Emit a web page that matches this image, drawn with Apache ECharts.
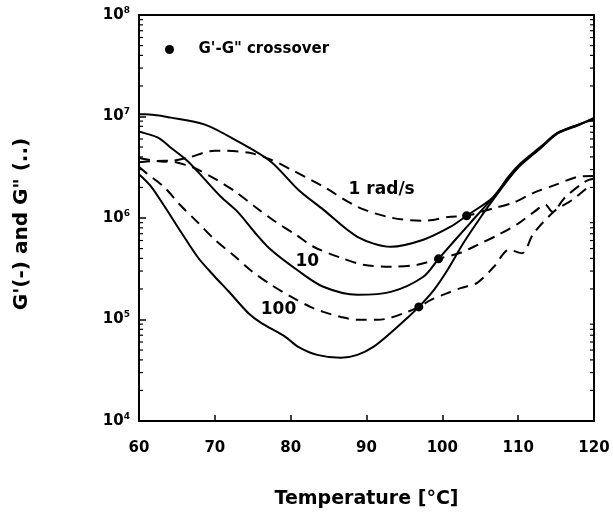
<!DOCTYPE html>
<html>
<head>
<meta charset="utf-8">
<script src="https://cdn.jsdelivr.net/npm/echarts@6/dist/echarts.min.js"></script>
<style>html,body{margin:0;padding:0;background:#fff}#c{width:613px;height:518px}</style>
</head>
<body>
<div id="c"></div>
<script>
// ---- data (temperature in °C, modulus in Pa) ----
const gp1T = [60, 60.8, 64.2, 68.7, 73.1, 77.4, 81.0, 84.3, 88.8, 93.2, 97.5, 101.1, 103.2, 106.8, 108.6, 110.3, 113.0, 115.2, 117.9, 120];
const gp1 = [1.05e7, 1.05e7, 9.75e6, 8.32e6, 5.65e6, 3.59e6, 1.90e6, 1.21e6, 6.53e5, 5.21e5, 6.11e5, 8.20e5, 1.05e6, 1.62e6, 2.49e6, 3.45e6, 5.05e6, 6.93e6, 8.32e6, 9.31e6];

const gpp1T = [60, 63.4, 66.5, 70.0, 74.4, 77.4, 80.1, 84.3, 88.8, 93.2, 97.5, 101.1, 103.2, 106.6, 109.3, 112.1, 115.0, 117.9, 120];
const gpp1 = [3.9e6, 3.59e6, 3.94e6, 4.61e6, 4.41e6, 3.76e6, 2.99e6, 2.04e6, 1.29e6, 1.01e6, 9.40e5, 1.03e6, 1.05e6, 1.24e6, 1.41e6, 1.78e6, 2.13e6, 2.55e6, 2.6e6];

const gp10T = [60, 62.5, 64.2, 66.5, 68.7, 70.8, 73.1, 75.3, 77.4, 81.0, 84.3, 88.8, 93.2, 97.5, 99.5, 103.7, 106.4, 108.6, 110.3, 113.0, 115.2, 117.9, 120];
const gp10 = [7.10e6, 6.19e6, 4.93e6, 3.59e6, 2.39e6, 1.62e6, 1.13e6, 7.16e5, 4.86e5, 3.02e5, 2.10e5, 1.75e5, 1.87e5, 2.64e5, 3.96e5, 8.97e5, 1.51e6, 2.40e6, 3.36e6, 4.95e6, 6.85e6, 8.25e6, 9.6e6];

const gpp10T = [60, 63.4, 66.5, 67.8, 70.2, 72.7, 75.3, 78.0, 80.7, 83.0, 86.6, 89.6, 93.2, 96.7, 99.5, 102.4, 104.8, 107.5, 110.0, 112.1, 113.6, 114.5, 116.2, 118.9, 120];
const gpp10 = [3.55e6, 3.67e6, 3.28e6, 2.99e6, 2.39e6, 1.82e6, 1.29e6, 9.18e5, 6.84e5, 5.21e5, 4.06e5, 3.46e5, 3.31e5, 3.46e5, 3.96e5, 4.55e5, 5.5e5, 6.9e5, 8.8e5, 1.15e6, 1.35e6, 1.15e6, 1.6e6, 2.3e6, 2.45e6];

const gp100T = [60, 61.6, 63.4, 65.6, 67.8, 70.0, 71.8, 74.4, 76.1, 79.3, 81.0, 83.5, 86.6, 88.8, 90.9, 93.2, 95.4, 96.9, 98.9, 100.7, 102.8, 105.1, 106.8, 108.6, 110.3, 113.0, 115.2, 117.9, 120];
const gp100 = [2.7e6, 2.04e6, 1.29e6, 7.16e5, 4.06e5, 2.64e5, 1.9e5, 1.16e5, 9.27e4, 6.75e4, 5.37e4, 4.48e4, 4.19e4, 4.48e4, 5.37e4, 7.40e4, 1.04e5, 1.33e5, 1.96e5, 3.09e5, 5.70e5, 1.03e6, 1.55e6, 2.35e6, 3.3e6, 4.9e6, 6.8e6, 8.2e6, 9.7e6];

const gpp100T = [60, 60.9, 63.4, 65.4, 67.8, 70.0, 72.7, 74.8, 77.4, 80.1, 82.6, 84.3, 86.6, 88.8, 91.5, 93.2, 95.4, 96.9, 98.5, 100.5, 102.4, 104.6, 106.8, 108.8, 110.5, 112.0, 114.8, 117.1, 119.5];
const gpp100 = [3.2e6, 2.80e6, 1.99e6, 1.35e6, 8.97e5, 6.11e5, 4.15e5, 3.02e5, 2.20e5, 1.67e5, 1.33e5, 1.19e5, 1.06e5, 9.93e4, 9.93e4, 1.04e5, 1.19e5, 1.33e5, 1.56e5, 1.8e5, 2.04e5, 2.3e5, 3.31e5, 4.86e5, 4.5e5, 7.0e5, 1.17e6, 1.5e6, 2.1e6];

const crossT = [96.9, 99.5, 103.2];
const crossG = [1.33e5, 3.96e5, 1.05e6];

const labT = [92.0, 82.2, 78.4];
const labG = [1.9e6, 3.7e5, 1.25e5];
const labText = ['1 rad/s', '10', '100'];

const xTicks = [60, 70, 80, 90, 100, 110, 120];
const yDecades = [4, 5, 6, 7, 8];
const minorMult = [2, 3, 4, 5, 6, 7, 8, 9];

// ---- helpers ----
const FONT = 'DejaVu Sans';
const pairs = (xs, ys) => xs.map((x, i) => [x, ys[i]]);
const minorVals = [];
yDecades.slice(0, -1).forEach(d => minorMult.forEach(m => minorVals.push(m * Math.pow(10, d))));

function curve(name, xs, ys, dashed) {
  return {
    name: name, type: 'line', data: pairs(xs, ys), showSymbol: false, smooth: 0.3,
    lineStyle: { color: '#000', width: 2, type: dashed ? [11, 7] : 'solid' },
    silent: true, z: 3
  };
}

const chart = echarts.init(document.getElementById('c'), null, { renderer: 'canvas' });
chart.setOption({
  animation: false,
  backgroundColor: '#fff',
  grid: { left: 139, right: 19, top: 15, bottom: 97, show: true, borderColor: '#000', borderWidth: 2 },
  legend: {
    left: 165, top: 42, padding: 0, itemWidth: 48, itemHeight: 9,
    data: ['G\'-G" crossover'],
    itemStyle: { color: '#000' },
    textStyle: { fontFamily: FONT, fontWeight: 'bold', fontSize: 15, color: '#000' }
  },
  xAxis: {
    type: 'value', min: 60, max: 120, interval: 10,
    name: 'Temperature [°C]', nameLocation: 'middle', nameGap: 69,
    nameTextStyle: { fontFamily: FONT, fontWeight: 'bold', fontSize: 19, color: '#000' },
    axisLine: { lineStyle: { color: '#000', width: 2 } },
    axisTick: { inside: true, length: 6, lineStyle: { color: '#000', width: 1.5 } },
    axisLabel: { margin: 20, fontFamily: FONT, fontWeight: 'bold', fontSize: 15, color: '#000',
      formatter: v => xTicks.indexOf(v) >= 0 ? String(v) : '' },
    splitLine: { show: false }
  },
  yAxis: {
    type: 'log', logBase: 10, min: 1e4, max: 1e8,
    name: 'G\'(-) and G" (..)', nameLocation: 'middle', nameGap: 107, nameRotate: 90,
    nameTextStyle: { fontFamily: FONT, fontWeight: 'bold', fontSize: 20, color: '#000', padding: [0, 12, 0, 0] },
    axisLine: { lineStyle: { color: '#000', width: 2 } },
    axisTick: { inside: true, length: 7, lineStyle: { color: '#000', width: 1.5 } },
    axisLabel: {
      margin: 9,
      formatter: v => '{b|10}{s|' + Math.round(Math.log10(v)) + '}',
      rich: {
        b: { fontFamily: FONT, fontWeight: 'bold', fontSize: 15, color: '#000', lineHeight: 18 },
        s: { fontFamily: FONT, fontWeight: 'bold', fontSize: 9, color: '#000', verticalAlign: 'top', lineHeight: 18, padding: [0, 0, 8, 0] }
      }
    },
    splitLine: { show: false }
  },
  series: [
    curve('gp1', gp1T, gp1, false),
    curve('gpp1', gpp1T, gpp1, true),
    curve('gp10', gp10T, gp10, false),
    curve('gpp10', gpp10T, gpp10, true),
    curve('gp100', gp100T, gp100, false),
    curve('gpp100', gpp100T, gpp100, true),
    {
      name: 'G\'-G" crossover', type: 'scatter', data: pairs(crossT, crossG),
      symbol: 'circle', symbolSize: 9, itemStyle: { color: '#000', opacity: 1 }, z: 5, silent: true
    },
    {
      name: 'labels', type: 'custom', silent: true, clip: false, z: 6,
      data: pairs(labT, labG),
      renderItem: (params, api) => {
        const p = api.coord([api.value(0), api.value(1)]);
        return {
          type: 'text', x: p[0], y: p[1],
          style: {
            text: labText[params.dataIndex], fill: '#000',
            font: 'bold 17px "DejaVu Sans"', align: 'center', verticalAlign: 'middle'
          }
        };
      }
    },
    {
      name: 'minorTicks', type: 'custom', silent: true, clip: false, z: 4,
      data: minorVals.map(v => [60, v]),
      renderItem: (params, api) => {
        const v = api.value(1);
        const l = api.coord([60, v]);
        const r = api.coord([120, v]);
        return {
          type: 'group', children: [
            { type: 'line', shape: { x1: l[0], y1: l[1], x2: l[0] + 4, y2: l[1] }, style: { stroke: '#000', lineWidth: 1.2 } },
            { type: 'line', shape: { x1: r[0] - 4, y1: r[1], x2: r[0], y2: r[1] }, style: { stroke: '#000', lineWidth: 1.2 } }
          ]
        };
      }
    }
  ]
});
</script>
</body>
</html>
